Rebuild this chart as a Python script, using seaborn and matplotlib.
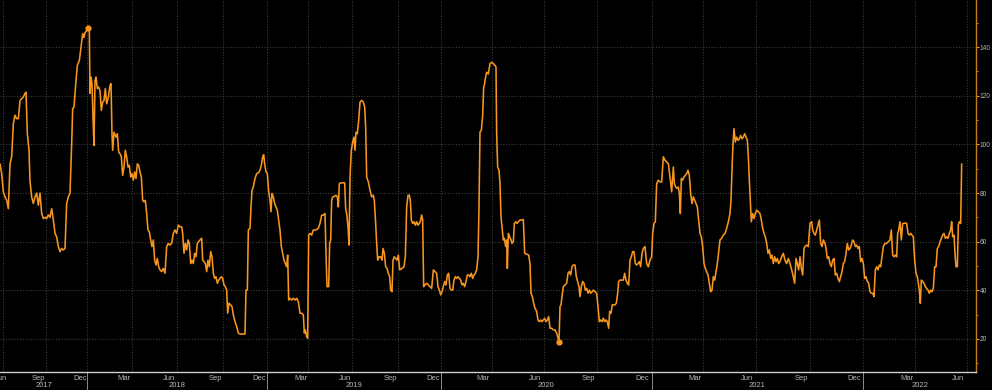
import numpy as np
import pandas as pd
import seaborn as sns
import matplotlib.pyplot as plt
import matplotlib.transforms as mtransforms

seg_2017 = [(0, 92), (5, 88), (10, 80.5), (15, 78.4), (20, 77), (25, 73.6), (30, 92), (35, 95), (40, 108.5),
            (45, 112), (50, 110.6), (55, 110.6), (60, 118), (65, 118.8), (70, 119.5), (75, 121), (78, 121.5),
            (82, 104.4), (87, 97.6), (90, 85), (95, 78.4), (100, 75.7), (105, 78.4), (110, 80), (115, 75),
            (120, 80), (125, 71.6), (130, 69.5), (135, 70), (140, 69.5), (145, 71), (150, 70), (155, 73.6),
            (160, 69), (165, 63.4), (170, 62), (175, 58), (180, 55.9), (185, 57.2), (190, 56.6), (195, 57.2),
            (200, 75.7), (205, 78.4), (210, 80), (215, 100), (218, 114.7), (222, 115.4), (228, 126.3),
            (232, 132.5), (238, 134.5), (243, 140), (248, 145.5), (252, 144), (255, 146), (260, 146.8),
            (265, 148), (268, 146.8), (270, 121), (273, 127.7), (276, 125), (279, 111), (282, 99.6),
            (285, 126.3), (288, 127.7), (292, 123), (296, 123.6), (300, 122), (304, 114), (308, 117.4),
            (312, 118), (316, 123), (320, 116.7), (325, 119.5), (330, 124.3), (333, 125), (336, 104.4),
            (338, 97.6), (342, 105), (348, 103), (352, 104.4), (356, 96.9), (360, 96.2), (364, 95),
            (368, 87.3), (372, 90.7), (376, 97.6), (380, 94.9), (384, 90.7), (388, 91.4), (392, 86.6),
            (396, 88), (400, 85.3), (404, 88.7), (408, 86), (412, 92), (416, 91.4), (420, 88.7), (424, 86.6),
            (428, 77), (432, 76.4), (436, 77), (440, 71.6), (444, 64.8), (448, 64), (452, 60.7), (456, 58),
            (460, 60.7), (464, 52.4), (468, 50.4), (472, 53.1), (476, 49.7), (480, 48.4), (485, 47.7),
            (490, 49), (495, 47)]

seg_2018 = [(500, 58), (505, 59.3), (510, 58.6), (515, 59.3), (520, 63.4), (525, 64.8), (530, 63.4),
            (535, 66.8), (540, 66.1), (545, 66.1), (548, 63.4), (552, 55.2), (556, 59.3), (560, 56.6),
            (564, 60.7), (568, 59.3), (572, 51), (576, 52.4), (580, 51), (584, 55.2), (588, 53.8), (592, 59.3),
            (596, 60), (600, 60.7), (605, 61.4), (608, 52.4), (612, 51.8), (616, 51), (620, 47.7), (624, 52.4),
            (628, 49.7), (632, 55.9), (636, 53.8), (640, 47), (644, 44.9), (648, 45.6), (652, 42.9),
            (656, 44.2), (660, 44.9), (664, 45.6), (668, 44.9), (672, 42.2), (676, 41.5), (680, 40.1),
            (683, 30.6), (687, 34.7), (692, 34), (696, 33.3), (700, 29.9), (705, 27.1), (710, 25.1),
            (715, 22.4), (720, 22), (725, 22), (730, 22), (735, 22), (738, 40.1), (742, 40.1), (745, 64.8),
            (750, 65.5), (753, 74.3), (756, 81.2), (760, 82.5), (765, 86), (770, 88), (775, 88.3), (780, 89.4),
            (784, 91.4), (788, 94.9), (791, 95.8), (794, 92), (798, 88.7), (802, 88), (806, 80.5), (810, 77),
            (813, 72.3), (816, 79.8), (820, 78.4), (824, 75.7), (828, 74.3), (832, 72.9), (836, 68.9),
            (840, 64.8), (844, 58), (848, 55.2), (852, 52.4), (856, 51), (860, 49.7), (863, 54.5), (866, 36),
            (870, 36.7), (875, 36), (880, 36.7), (885, 36), (890, 36.7), (895, 35.3), (900, 30.6), (905, 30.6),
            (910, 29.9), (913, 22.4), (916, 23.7), (920, 21), (923, 20.3), (926, 62.7), (930, 63.4),
            (935, 62.7), (940, 64.8), (945, 64.8), (950, 65), (955, 65.5), (960, 67.5), (965, 70.9),
            (970, 70.9), (975, 71.6)]

seg_2019 = [(978, 55.2), (981, 41.5), (986, 41.5), (989, 59.3), (992, 60.7), (995, 77), (998, 78.4),
            (1003, 78.6), (1008, 79.1), (1012, 78.4), (1015, 74.3), (1018, 83.9), (1023, 84.2), (1028, 84.2),
            (1034, 84.2), (1037, 73.6), (1040, 71.6), (1044, 66.1), (1047, 58.6), (1050, 86.6), (1054, 97.6),
            (1058, 101), (1062, 103), (1065, 97.6), (1068, 105), (1072, 104.4), (1076, 109.9), (1080, 117.4),
            (1085, 118.1), (1090, 117.4), (1094, 115.4), (1097, 107.2), (1100, 86.6), (1105, 84.6),
            (1110, 81.2), (1115, 78.4), (1120, 79.1), (1123, 77), (1127, 67.5), (1130, 59.3), (1133, 52.4),
            (1137, 53.8), (1142, 53.8), (1146, 52.4), (1149, 57.2), (1153, 55.2), (1157, 49.7), (1161, 49),
            (1165, 47), (1169, 45.6), (1172, 40.1), (1176, 39.4), (1179, 52.4), (1183, 53.8), (1187, 53.1),
            (1191, 52.4), (1195, 54.5), (1199, 48.4), (1203, 48.7), (1207, 49.1), (1212, 49.7), (1216, 53.8),
            (1220, 74.3), (1224, 79.1), (1228, 79.1), (1231, 77), (1234, 68.9), (1238, 67.5), (1242, 68.2),
            (1246, 66.8), (1250, 68.2), (1254, 66.8), (1258, 67.5), (1262, 68.9), (1265, 71), (1268, 68.9),
            (1271, 41.5), (1275, 42.2), (1280, 42.9), (1285, 42.2), (1290, 41.5), (1295, 40.8), (1300, 48.4),
            (1305, 47.7), (1310, 47), (1314, 41.5), (1318, 40.1), (1322, 38.1), (1326, 39.4), (1330, 41.5),
            (1334, 43.6), (1338, 42.2), (1342, 46.3), (1346, 47), (1350, 40.8), (1354, 40.1), (1358, 40.1),
            (1362, 44.2), (1366, 45.6), (1370, 44.9), (1374, 45.6), (1378, 44.9), (1382, 44.2), (1386, 42.2),
            (1390, 42.9), (1394, 41.5), (1398, 43.6), (1402, 46.3), (1406, 46.3), (1410, 45.6), (1414, 47),
            (1418, 44.9), (1422, 46.3), (1426, 47), (1430, 48.4), (1434, 53.8), (1437, 74.3), (1440, 105.1),
            (1444, 105.8), (1448, 112), (1451, 123.6), (1454, 125)]

seg_2020 = [(1455, 126.3), (1460, 129.7), (1465, 129), (1470, 133.2), (1475, 133.8), (1480, 133.2),
            (1485, 132.5), (1488, 131.8), (1490, 104.4), (1493, 90.7), (1497, 89.4), (1500, 83.9),
            (1503, 70.2), (1506, 66.1), (1510, 60.7), (1513, 61.4), (1517, 58), (1520, 60.7), (1522, 49),
            (1525, 63.4), (1529, 62), (1533, 60.7), (1536, 59.3), (1540, 60), (1543, 67.5), (1547, 68.2),
            (1551, 67.5), (1555, 68.2), (1560, 68.9), (1565, 68.9), (1570, 69.1), (1574, 55.2), (1580, 54.9),
            (1586, 54.5), (1590, 51), (1593, 38.8), (1597, 37.4), (1601, 34.7), (1605, 32.6), (1610, 31.3),
            (1614, 27.8), (1618, 27.1), (1622, 27.8), (1626, 27.1), (1630, 27.8), (1634, 28.5), (1638, 27.1),
            (1642, 27.8), (1646, 29.2), (1650, 24.4), (1655, 24.4), (1660, 23.7), (1665, 23.7), (1670, 22.4),
            (1674, 20.3), (1677, 18.9), (1680, 33.3), (1683, 34), (1686, 37.4), (1690, 41.5), (1695, 42.2),
            (1700, 42.9), (1704, 47), (1708, 47.7), (1712, 46.3), (1716, 49.7), (1720, 50.4), (1725, 50.4),
            (1729, 45.6), (1733, 43.6), (1737, 41.5), (1740, 37.4), (1744, 41.5), (1748, 43.6), (1752, 42.9),
            (1756, 40.1), (1760, 40.8), (1764, 38.8), (1768, 40.1), (1772, 38.8), (1776, 39.4), (1780, 40.1),
            (1785, 39.4), (1790, 38.8), (1794, 33.3), (1798, 27.1), (1802, 27.8), (1806, 27.1), (1810, 28.5),
            (1814, 27.1), (1818, 27.8), (1822, 27.1), (1826, 24.4), (1829, 31.3), (1833, 30.6), (1837, 34),
            (1841, 34), (1845, 34), (1849, 34.7), (1853, 38.8), (1856, 43.6), (1860, 44.2), (1865, 44.2),
            (1870, 44.2), (1874, 47), (1878, 44.2), (1882, 42.9), (1886, 42.2), (1890, 52.4), (1894, 53.8),
            (1898, 55.9), (1902, 55.9), (1906, 51), (1910, 50.4), (1914, 51), (1918, 51.8), (1922, 49.7),
            (1926, 55.2), (1930, 57.2), (1935, 58)]

seg_2021 = [(1940, 51), (1945, 49.7), (1950, 52.4), (1955, 53.8), (1958, 63.4), (1962, 67.5), (1966, 68.2),
            (1970, 83.9), (1975, 85.3), (1980, 84.6), (1985, 84.6), (1990, 94.9), (1995, 93.5), (2000, 92.8),
            (2005, 92.1), (2010, 86.6), (2015, 80.5), (2020, 90.7), (2023, 83.9), (2027, 82.5), (2031, 81.9),
            (2035, 82.5), (2038, 79.8), (2041, 71.6), (2044, 86), (2048, 85.3), (2052, 86.6), (2056, 87.3),
            (2060, 88), (2064, 89.4), (2068, 87.3), (2072, 79.8), (2076, 75.7), (2080, 78.4), (2084, 77),
            (2088, 75.7), (2092, 74.3), (2096, 68.9), (2100, 63.4), (2104, 62), (2108, 58), (2112, 51),
            (2116, 49), (2120, 47.7), (2124, 46.3), (2128, 42.9), (2132, 39.4), (2136, 40.1), (2140, 45.6),
            (2144, 44.2), (2148, 47.7), (2152, 51), (2156, 55.9), (2160, 60.7), (2165, 61.4), (2170, 62.7),
            (2175, 63.4), (2180, 65.5), (2185, 68.2), (2190, 71.6), (2193, 77), (2196, 89.4), (2199, 100.4),
            (2202, 106.5), (2206, 101), (2210, 103), (2214, 101.7), (2218, 102.3), (2222, 103.7), (2226, 102.3),
            (2230, 103), (2234, 104.4), (2238, 103), (2242, 101.7), (2245, 94.9), (2248, 85.3), (2251, 77),
            (2254, 68.2), (2258, 71.6), (2262, 69.5), (2266, 71.6), (2270, 73), (2275, 72.3), (2280, 71.6),
            (2284, 68.9), (2288, 65.5), (2292, 63.4), (2296, 62), (2300, 59.3), (2304, 55.2), (2308, 56.6),
            (2312, 53.1), (2316, 54.5), (2320, 51), (2324, 53.8), (2328, 51.8), (2332, 53.1), (2336, 51),
            (2340, 51.8), (2345, 53.8), (2350, 55.2), (2355, 52.4), (2360, 51), (2365, 53.1), (2370, 51),
            (2375, 48.4), (2380, 45.6), (2384, 42.9), (2388, 53.1), (2392, 51), (2396, 48.4), (2400, 53.8),
            (2404, 49), (2408, 46.3), (2412, 57.2), (2415, 58)]

seg_2022 = [(2420, 58.6), (2425, 58), (2430, 67.5), (2435, 68.2), (2438, 64.8), (2442, 63.4), (2446, 62.7),
            (2450, 64.8), (2455, 67.5), (2458, 68.9), (2462, 59.3), (2466, 58), (2470, 60.7), (2475, 59.3),
            (2478, 57.2), (2482, 53.1), (2486, 53.8), (2490, 51), (2494, 49.7), (2498, 52.4), (2502, 53.1),
            (2506, 46.3), (2510, 47), (2514, 44.9), (2518, 43.6), (2522, 45.6), (2526, 47.7), (2530, 51),
            (2534, 51.8), (2538, 55.2), (2542, 59.3), (2546, 56.6), (2550, 57.2), (2554, 58.6), (2558, 60.7),
            (2562, 60), (2566, 58), (2570, 58.6), (2574, 57.2), (2578, 58), (2582, 51.8), (2586, 53.1),
            (2590, 51), (2594, 44.9), (2598, 45.6), (2602, 43.6), (2606, 42.9), (2610, 39.4), (2614, 38.8),
            (2618, 38.8), (2622, 37.4), (2626, 48.4), (2630, 49.7), (2634, 48.4), (2638, 50.4), (2642, 49.7),
            (2646, 53.8), (2650, 58), (2655, 59.3), (2660, 59.3), (2665, 60), (2670, 60.7), (2674, 64.8),
            (2678, 54.5), (2682, 53.8), (2686, 54.5), (2690, 53.8), (2693, 63.4), (2696, 64.8), (2700, 68.2),
            (2704, 60.7), (2708, 67.5), (2712, 67.5), (2716, 67.7), (2720, 67.5), (2724, 63.4), (2728, 62.7),
            (2732, 63.4), (2736, 62.7), (2740, 62), (2744, 52.4), (2748, 47), (2752, 45.6), (2755, 42.9),
            (2758, 40.1), (2761, 34.7), (2764, 44.2), (2768, 43.6), (2772, 42.9), (2776, 41.5), (2780, 40.8),
            (2784, 40.1), (2788, 38.8), (2792, 40.1), (2796, 39.4), (2800, 40.8), (2804, 49.7), (2808, 49.7),
            (2812, 57.2), (2816, 58), (2820, 60), (2824, 61.4), (2828, 62.7), (2832, 63.4), (2836, 61.4),
            (2840, 62), (2844, 61.4), (2848, 63.4), (2852, 64.8), (2855, 68.2), (2858, 62), (2862, 62.7),
            (2865, 55.2), (2868, 49.7), (2872, 49.7), (2875, 67), (2878, 68.2), (2882, 67.5), (2885, 92)]

# quarter starts on the gapless axis: Jul 2017 ... Jul 2022
quarter_starts = [8, 137, 262, 395, 530, 670, 800, 923, 1057, 1193, 1322, 1475, 1632, 1792,
                  1955, 2110, 2268, 2430, 2590, 2746, 2900]
quarter_labels = ["Jun", "Sep", "Dec", "Mar"] * 5 + ["Jun"]
year_starts = [262, 800, 1322, 1955, 2590]
years = ["2017", "2018", "2019", "2020", "2021", "2022"]
y_ticks = [20, 40, 60, 80, 100, 120, 140]
x_end = 2928

ORANGE = "#f7961e"
df = pd.DataFrame(seg_2017 + seg_2018 + seg_2019 + seg_2020 + seg_2021 + seg_2022,
                  columns=["obs", "value"])

sns.set_theme(style="dark", rc={"axes.facecolor": "black", "figure.facecolor": "black"})
plt.rcParams["font.family"] = ["Liberation Sans", "DejaVu Sans"]

fig = plt.figure(figsize=(9.92, 3.9), dpi=100)
ax = fig.add_axes([0, 18 / 390, 976 / 992, 372 / 390])

sns.lineplot(data=df, x="obs", y="value", ax=ax, color=ORANGE, lw=1.15,
             estimator=None, sort=False)

# high / low markers
hi = df.loc[df["value"].idxmax()]
lo = df.loc[df["value"].idxmin()]
ax.scatter([hi["obs"], lo["obs"]], [hi["value"], lo["value"]], s=12, color=ORANGE, zorder=5)

ax.set_xlim(0, x_end)
ax.set_ylim(6.4, 159.4)
ax.set_xlabel("")
ax.set_ylabel("")

# grid
ax.set_xticks(quarter_starts)
ax.set_xticklabels([])
month_bounds = []
for a, b in zip(quarter_starts[:-1], quarter_starts[1:]):
    step = (b - a) / 3
    month_bounds += [a + step, a + 2 * step]
ax.set_xticks(month_bounds, minor=True)
ax.set_yticks(y_ticks)
ax.set_yticks(range(10, 160, 10), minor=True)
ax.grid(True, which="major", color="#3d3d3d", lw=0.8, ls=(0, (1, 1.5)))
ax.grid(False, which="minor")

ax.yaxis.tick_right()
ax.tick_params(axis="y", which="major", colors=ORANGE, labelcolor="#b8b8b8", labelsize=4.8,
               length=2, width=0.8, pad=0.6, direction="out")
ax.tick_params(axis="y", which="minor", colors=ORANGE, length=1.2, width=0.6)
ax.tick_params(axis="x", which="both", colors="#dddddd", length=2, width=0.8, direction="in")

for side in ["top", "left"]:
    ax.spines[side].set_visible(False)
ax.spines["bottom"].set_color("#cfcfcf")
ax.spines["bottom"].set_linewidth(1)
ax.spines["right"].set_color("#c97a1c")
ax.spines["right"].set_linewidth(1)

trans = mtransforms.blended_transform_factory(ax.transData, ax.transAxes)

# month labels centred in the visible part of each month
first_width = quarter_starts[1] - quarter_starts[0]
prev = [quarter_starts[0] - first_width] + quarter_starts[:-1]
for lab, q, p in zip(quarter_labels, quarter_starts, prev):
    start = max(q - (q - p) / 3, 0)
    end = min(q, x_end)
    ax.text((start + end) / 2, -0.017, lab, transform=trans, ha="center", va="center",
            fontsize=5.5, color="#b8b8b8", clip_on=False)

# year labels and separators
bounds = [0] + year_starts + [x_end]
for lab, a, b in zip(years, bounds[:-1], bounds[1:]):
    ax.text((a + b) / 2, -0.037, lab, transform=trans, ha="center", va="center",
            fontsize=5.5, color="#b8b8b8", clip_on=False)
for ys in year_starts:
    ax.plot([ys, ys], [0, -0.05], transform=trans, color="#8a8a8a", lw=0.7, clip_on=False)

fig.savefig("out.png", dpi=100, facecolor="black")
